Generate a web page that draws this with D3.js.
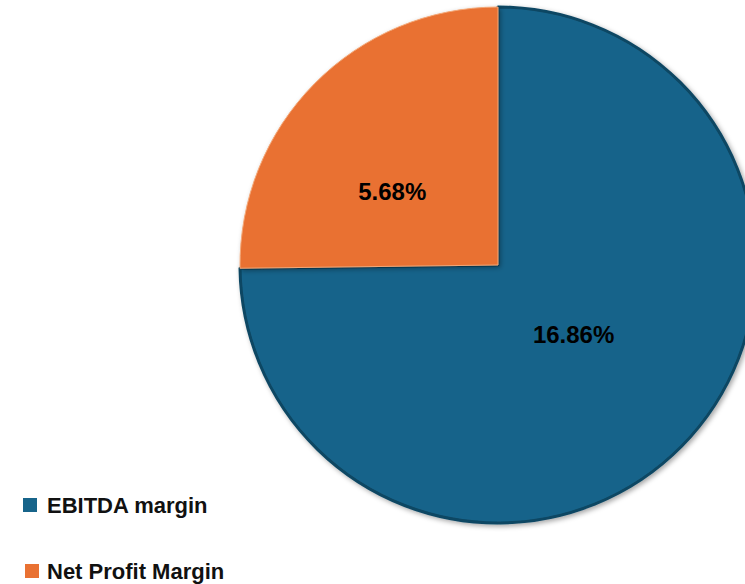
<!DOCTYPE html>
<html>
<head>
<meta charset="utf-8">
<script src="https://cdn.jsdelivr.net/npm/d3@7"></script>
<style>
  body { margin: 0; background: #fff; }
</style>
</head>
<body>
<div id="chart"></div>
<script>
/* Chart data */
var categories = ["EBITDA margin", "Net Profit Margin"];
var values = [16.86, 5.68];
var colors = ["#17648a", "#e97132"];
var edgeColors = ["#0e4763", "#f3a878"];

var width = 745,
    height = 584,
    fontFamily = "'Liberation Sans', Arial, sans-serif";

var cx = 498, cy = 265, radius = 258;

var svg = d3.select("#chart")
    .append("svg")
    .attr("width", width)
    .attr("height", height);

var defs = svg.append("defs");
var shadow = defs.append("filter")
    .attr("id", "shadow")
    .attr("x", "-10%").attr("y", "-10%")
    .attr("width", "120%").attr("height", "120%");
shadow.append("feDropShadow")
    .attr("dx", 2).attr("dy", 2)
    .attr("stdDeviation", 2.5)
    .attr("flood-color", "#000")
    .attr("flood-opacity", 0.35);

var data = categories.map(function(c, i) { return { name: c, value: values[i] }; });

var pie = d3.pie()
    .sort(null)
    .value(function(d) { return d.value; });

var arc = d3.arc()
    .innerRadius(0)
    .outerRadius(radius);

var arcs = pie(data);

var g = svg.append("g")
    .attr("transform", "translate(" + cx + "," + cy + ")");

g.selectAll("path.slice")
    .data(arcs)
    .enter().append("path")
    .attr("class", "slice")
    .attr("d", arc)
    .attr("fill", function(d, i) { return colors[i]; })
    .attr("stroke", function(d, i) { return edgeColors[i]; })
    .attr("stroke-width", function(d, i) { return i === 0 ? 3 : 1; })
    .attr("stroke-linejoin", "round")
    .attr("filter", "url(#shadow)");

/* Labels placed at arc centroids */
var labelRadius = [0.39, 0.5];
var labelNudge = [[4, -1], [-14, 17]];

g.selectAll("text.label")
    .data(arcs)
    .enter().append("text")
    .attr("class", "label")
    .attr("transform", function(d, i) {
        var r = radius * labelRadius[i];
        var c = d3.arc().innerRadius(r).outerRadius(r).centroid(d);
        return "translate(" + (c[0] + labelNudge[i][0]) + "," + (c[1] + labelNudge[i][1]) + ")";
    })
    .attr("text-anchor", "middle")
    .attr("dy", "0.35em")
    .attr("font-family", fontFamily)
    .attr("font-weight", "bold")
    .attr("font-size", 24)
    .attr("fill", "#000")
    .text(function(d) { return d.data.value.toFixed(2) + "%"; });

/* Legend */
var legend = svg.selectAll("g.legend")
    .data(categories)
    .enter().append("g")
    .attr("class", "legend")
    .attr("transform", function(d, i) { return "translate(23," + (505 + i * 66) + ")"; });

legend.append("rect")
    .attr("x", function(d, i) { return i * 2; })
    .attr("y", -7)
    .attr("width", 14)
    .attr("height", 14)
    .attr("fill", function(d, i) { return colors[i]; });

legend.append("text")
    .attr("x", 24)
    .attr("dy", "0.36em")
    .attr("font-family", fontFamily)
    .attr("font-weight", "bold")
    .attr("font-size", 22)
    .attr("fill", "#111")
    .text(function(d) { return d; });
</script>
</body>
</html>
